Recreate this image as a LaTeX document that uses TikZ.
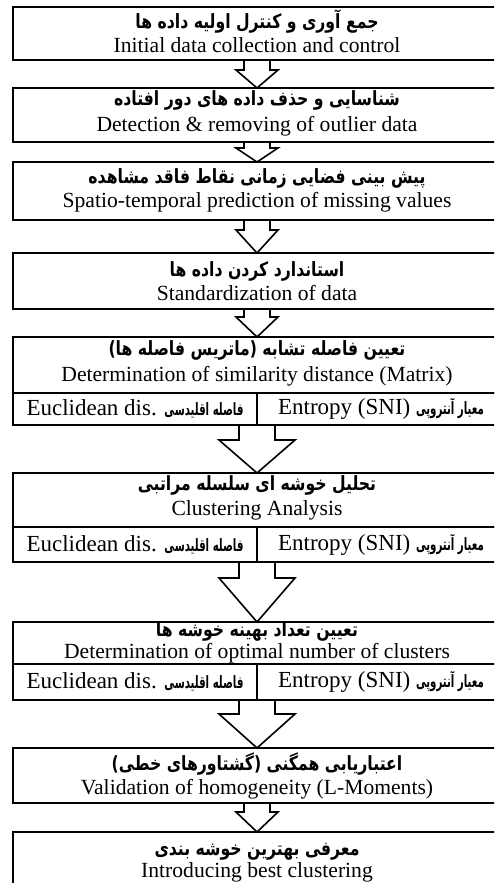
\documentclass[tikz,border=0pt]{standalone}
\usepackage{fontspec}
\setmainfont{Liberation Serif}
\newfontfamily\fafont[Script=Arabic, FakeStretch=0.8]{DejaVu Sans}
\newfontfamily\fafontn[Script=Arabic, FakeStretch=0.6]{DejaVu Sans}
\TeXXeTstate=1
\usetikzlibrary{calc}
\newcommand{\FA}[1]{{\fafont\bfseries\beginR #1\endR}}
\newcommand{\FAs}[1]{{\fontsize{8.5}{10}\fafontn\bfseries\beginR #1\endR}}
\tikzset{
  boxnode/.style={draw, line width=1pt, minimum width=246pt, anchor=north west, inner sep=0pt, outer sep=0pt},
  cellnode/.style={draw, line width=1pt, minimum width=122pt, anchor=north west, inner sep=0pt, outer sep=0pt,
     font=\fontsize{11.5}{13}\selectfont},
  fatext/.style={anchor=mid, inner sep=0pt, font=\fontsize{9.8}{11}\selectfont},
  entext/.style={anchor=mid, inner sep=0pt, font=\fontsize{10.8}{12}\selectfont},
  arr/.style={draw, line width=0.8pt, line join=miter}
}
\newcommand{\smallarr}[3]{%
  \draw[arr] ($(#1.south -| ax)+(-13,0)$) -- ++(0,#3) -- ++(-8,0) -- (#2.north -| ax)
     -- ($(#1.south -| ax)+(21,#3)$) -- ++(-8,0) -- ++(0,-#3);}
\newcommand{\bigarr}[3]{%
  \draw[arr] ($(#1.south -| ax)+(-18,0)$) -- ++(0,#3) -- ++(-20,0) -- (#2.north -| ax)
     -- ($(#1.south -| ax)+(38,#3)$) -- ++(-20,0) -- ++(0,-#3);}
\begin{document}
\begin{tikzpicture}[x=0.5pt,y=-0.5pt]
\useasboundingbox (0,0) rectangle (494,883);
\clip (0,0) rectangle (494,883);
\coordinate (ax) at (257,0);
% boxes
\node[boxnode, minimum height=26.5pt] (b1) at (13,7) {};
\node[boxnode, minimum height=27pt] (b2) at (13,88) {};
\node[boxnode, minimum height=29pt] (b3) at (13,162) {};
\node[boxnode, minimum height=28pt] (b4) at (13,253) {};
\node[boxnode, minimum height=28pt] (b5) at (13,337) {};
\node[cellnode, minimum height=16pt] (b5l) at (b5.south west) {Euclidean dis. \FAs{فاصله اقلیدسی}};
\node[cellnode, minimum width=124pt, minimum height=16pt] (b5r) at (b5l.north east) {Entropy (SNI) \FAs{معیار آنتروپی}};
\node[boxnode, minimum height=27pt] (b6) at (13,473) {};
\node[cellnode, minimum height=17.5pt] (b6l) at (b6.south west) {Euclidean dis. \FAs{فاصله اقلیدسی}};
\node[cellnode, minimum width=124pt, minimum height=17.5pt] (b6r) at (b6l.north east) {Entropy (SNI) \FAs{معیار آنتروپی}};
\node[boxnode, minimum height=21pt] (b7) at (13,622) {};
\node[cellnode, minimum height=18pt] (b7l) at (b7.south west) {Euclidean dis. \FAs{فاصله اقلیدسی}};
\node[cellnode, minimum width=124pt, minimum height=18pt] (b7r) at (b7l.north east) {Entropy (SNI) \FAs{معیار آنتروپی}};
\node[boxnode, minimum height=27.5pt] (b8) at (13,748) {};
\node[boxnode, minimum height=40pt] (b9) at (13,832) {};
% texts
\node[fatext] (t1a) at (257,24) {\FA{جمع آوری و کنترل اولیه داده ها}};
\node[entext] (t1b) at (257,48) {Initial data collection and control};
\node[fatext] (t2a) at (257,101) {\FA{شناسایی و حذف داده های دور افتاده}};
\node[entext] (t2b) at (257,127) {Detection \& removing of outlier data};
\node[fatext] (t3a) at (257,179) {\FA{پیش بینی فضایی زمانی نقاط فاقد مشاهده}};
\node[entext] (t3b) at (257,203) {Spatio-temporal prediction of missing values};
\node[fatext] (t4a) at (257,272) {\FA{استاندارد کردن داده ها}};
\node[entext] (t4b) at (257,296) {Standardization of data};
\node[fatext] (t5a) at (257,351) {\FA{تعیین فاصله تشابه (ماتریس فاصله ها)}};
\node[entext] (t5b) at (257,377) {Determination of similarity distance (Matrix)};
\node[fatext] (t6a) at (257,486) {\FA{تحلیل خوشه ای سلسله مراتبی}};
\node[entext] (t6b) at (257,511) {Clustering Analysis};
\node[fatext] (t7a) at (257,632) {\FA{تعیین تعداد بهینه خوشه ها}};
\node[entext] (t7b) at (257,654) {Determination of optimal number of clusters};
\node[fatext] (t8a) at (257,766) {\FA{اعتباریابی همگنی (گشتاورهای خطی)}};
\node[entext] (t8b) at (257,790) {Validation of homogeneity (L-Moments)};
\node[fatext] (t9a) at (257,851) {\FA{معرفی بهترین خوشه بندی}};
\node[entext] (t9b) at (257,873) {Introducing best clustering};
% arrows
\smallarr{b1}{b2}{10}
\smallarr{b2}{b3}{6}
\smallarr{b3}{b4}{10}
\smallarr{b4}{b5}{8}
\bigarr{b5r}{b6}{15}
\bigarr{b6r}{b7}{16}
\bigarr{b7r}{b8}{14}
\smallarr{b8}{b9}{9}
\end{tikzpicture}
\end{document}
